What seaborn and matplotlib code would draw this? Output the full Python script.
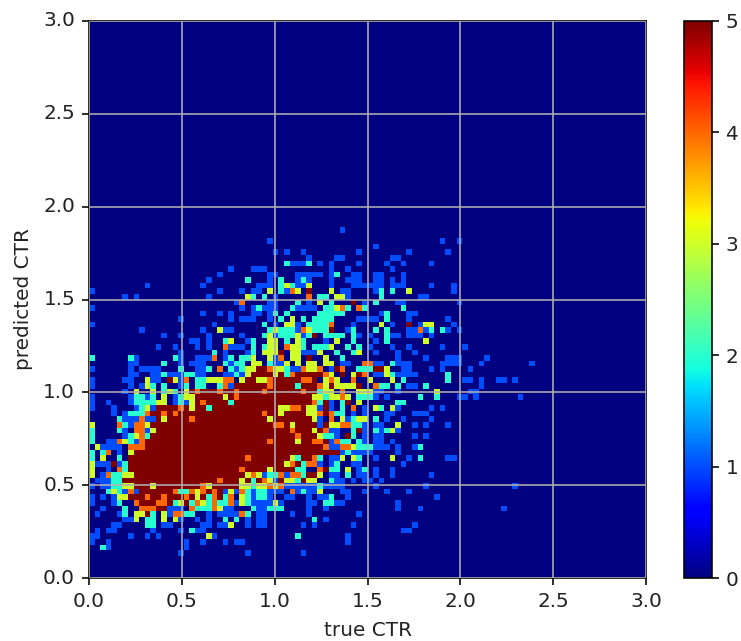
import numpy as np
import seaborn as sns
from matplotlib import pyplot as plt

# counts, 100x100 bins over 0..3
# row index from the bottom -> "col:count" or "first-last:count", later tokens win
rows_upper = {
    62: "45:1",
    60: "32:1 63:1 66:1",
    59: "51:1",
    58: "33:1 35:1 38:1 48:1 57:1 64:1",
    57: "39:1 44-45:1 54-55:1",
    56: "35:2 36-38:1 39:2 41:1 43:1 48:1 53:1 56:1 61:1",
    55: "25:1 29-31:1 43:1 46:1 54:1",
    54: "23:1 32-33:1 37-41:1 43:1 44:2 47-48:1 51-52:1 56:1",
    53: "21:1 28:2 32:1 34:2 37:1 38:2 39:1 43:1 46-48:1 51-52:1 54:1 56:1",
    52: "10:1 20:1 30-32:1 34:2 35:3 36:2 37-38:1 39:3 43:1 47-50:1 51-52:1 54-56:1 61:1 65:1",
    51: "0:1 23:1 27:1 29-30:1 32:3 34:2 35:1 36:4 37:3 39:5 43:3 45-46:1 51:1 52:2 54:2 57:3 65:1",
    50: "6:1 8:1 21:1 28:3 29:2 31:2 33:1 39:4 41-42:2 44-45:3 46:1 52:2 59-60:1",
    49: "26:1 27:4 32-33:1 37:2 39:1 41:3 43:2 47:5 49:1 51:2 55-56:1 66:1",
    48: "0:1 27:1 29:1 30:2 31-33:1 36:2 37-40:1 42-43:2 44:3 45:4 46:2 48:4 49:2 56:2",
    47: "20:1 23:1 25:1 29-30:1 32:1 33:2 35:2 41-45:2 52:1 53:2 57-58:1",
    46: "16:1 25:1 27-29:1 32:1 34:2 36:3 38:2 40-43:2 48-50:1 51:1 53:2 57:1 64:1",
    45: "0:1 22:1 31:2 33:1 35-36:3 37:1 39:2 40-42:2 43:4 47:1 52:3 54:1 57:5 59:1 60-61:3 65:1",
    44: "9:1 20:1 23:3 24-25:1 32:2 33:3 34-36:2 37:1 38:4 39:3 40-42:2 43:5 46:1 47:2 51:2 53:2 57-58:1 59:4 60:1 61:2 63:2 64:1 66:1",
    43: "13:1 16:1 21:1 27:1 31:2 32:3 33:1 34-36:2 37:3 38:1 39:2 40:5 42-43:2 44-45:2 47:2 48:1 50:1 53:2 54-55:1 57-59:1 61:1",
    42: "18-19:1 21:1 24:2 25:3 28:1 29:2 32-33:3 35:2 37:3 38:2 42:1 44:3 47:2 51:1 53:2 60:3",
    41: "12:1 15:1 19:1 21:1 24:4 25-27:1 29:2 31:2 32-33:3 35:4 36-37:3 38:2 40-42:2 43:3 46:2 48:2 50:1 54:1 57:1 63:1 67:1",
    40: "16:1 22:2 24:1 28:1 29:2 31-33:3 34:5 36-37:3 38-40:1 41:3 44:2 47:2 48:3 51:1 55:1 58:1",
    39: "0:2 7:2 8:1 15:2 16:1 19-21:1 22:4 24:1 25:2 27-28:2 29:3 32:3 33:1 34:4 36-37:3 39:5 42:3 45:2 55:1 60:1 64-66:1 71:1",
    38: "7-8:1 13:2 16:1 18-20:1 24:2 25:1 26-27:2 29-30:3 32:2 33-34:1 35:3 37:3 39-40:3 42-43:3 45-46:1 49-50:4 51-52:1 54:2 55:1 56-57:1 63-66:1 70:1 79:1",
    37: "0:1 7:1 9-12:1 16:2 19-20:1 21:2 23:4 25:2 26:1 27:2 28-29:3 30-31:5 32:4 33-34:3 35:2 36-37:1 38:4 39-40:3 41:4 43:1 44:5 45:4 48-50:2 51-52:5 53:3 56-57:1 61:1 63:1 68:1",
}
rows_core = {
    36: "7-8:1 11-12:1 13:2 14-16:1 17-18:2 19-20:1 24-25:1 26:2 27:1 28:3 29-32:5 33:3 34:5 35:2 36:4 37-41:5 42:4 43:3 45:5 47:3 48:5 49:4 51-52:1 53:3 54:2 55-58:1 64:2",
    35: "0:1 6-7:1 10:3 11-12:1 14:5 15:3 16:1 17:4 19-20:2 21-23:3 24-25:4 27:3 28-29:5 30-31:3 32:4 33-37:5 38-39:4 40:5 42:3 43:4 44:3 47:4 50:3 54:3 56:2 64:2 67-68:1 70:1 73-74:1 76:1",
    34: "0:1 7:1 9:1 10:3 11:2 13:2 16:1 17:2 19-20:2 23:2 24:4 25:1 26-36:5 32:4 37:2 38-40:5 41:4 42:3 43:5 44-47:3 48:5 51:4 52-53:2 55:2 57-58:1 60:2 70:1",
    33: "6:1 8:3 11:3 13:2 14:3 15:2 17:3 18-40:5 19:4 23:4 26:4 31:4 38:4 41:2 42-43:3 45:4 48-50:3 51-52:1 55:1 62:3 68-69:1",
    32: "0:1 7:1 8-9:2 10:1 11:2 13:3 15:1 16:2 17-18:3 19-39:5 24:3 26:4 40-41:3 42:2 43-44:3 45:4 46:3 48-50:2 51:1 53:1 59:2 62:2 66-67:1 69:1 77:1",
    31: "0:1 3:1 7:1 8-11:2 12-13:3 15:1 16:2 17:1 18:3 19-39:5 20:4 25:2 40:4 41:2 42:5 43:1 45:2 46:5 48:3 55-56:2",
    30: "0:1 4:1 8:1 9:2 10:3 11:1 12-42:5 16:4 18:3 21:2 34-35:3 36-37:4 39-40:3 41:1 43:1 45:2 47:4 49:1 51:3 52:2 54:3 55:1 61:1 63:1",
    29: "4:1 6:1 7-9:2 10:4 11-38:5 13:4 15:4 31:4 34:3 39-40:3 41:4 42:5 43:4 44-45:2 47:1 49:1 53-54:1 58-60:1",
    28: "5:2 6-8:1 9:4 10-11:1 12-39:5 13:3 18:4 32:3 40:3 41:1 43:4 45:3 46:1 47:2 48-49:3 51:2 53:1 56:1 61:1",
    27: "0:3 5:4 6:2 7:1 8-9:4 10:3 11-40:5 33-34:4 36:3 41:1 42:5 43-44:3 45-46:4 47-48:2 49:1 51-52:1 55:3 58:1 60:1 64:1",
    26: "0:2 5:2 6:1 8-9:4 10:1 11:3 12-40:5 36:4 40:3 41:5 42:4 43-44:1 47:2 48:5 49:1 51:2 52:1 53:2 54:3 55:1",
    25: "0:2 6:1 7:2 8:3 9:4 10:2 11-40:5 37:4 41:3 42-43:2 44:1 46:5 47:2 49:1 51-52:1 58:1 60:1",
    24: "0:2 3-4:1 5:4 6:3 7:2 8:1 9:4 10-39:5 32:4 37:3 40-41:4 42:5 43:1 44:4 45-46:2 48:2 49:1 51-52:1 54:1",
    23: "1:3 2-5:1 7-9:4 10-41:5 42:4 43-44:1 45-46:4 47:3 48-50:2 51-52:1 53:1 55:1 58:1 59:2",
    22: "0:2 2:2 3:4 5:1 7:3 8-44:5 45:1 46:2 47-50:1 55:1",
    21: "0:2 2:3 5:2 7-39:5 28:4 36:3 37:2 40:4 41:2 43-44:1 45:3 47:3 48:2 51:1 54:3 57:1 59:2 64-65:1",
    20: "0:3 1-3:1 4:5 5:1 6:2 7-38:5 35:3 36:4 38:2 39-40:4 41:1 43:1 44:2 47-48:1 56:1",
    19: "0:3 3:1 5:4 6:2 7-36:5 27:4 32:3 37-38:2 41:4 42:5 43-44:2 46:3 48:1 49:2 51:1 54:1",
    18: "0:3 2:1 3:4 4-5:2 6-7:3 8-27:5 28:3 29:4 30:3 31:1 32-33:2 34:4 35:1 36-37:4 38:2 39-40:5 41:3 43-44:1 46:2 48-49:1 51:1 54:1 61:1",
    17: "1-3:1 4-5:2 6-26:5 23:4 27:3 28:5 29:2 30:5 31:4 32:3 33:1 34:5 35-36:3 37:2 38:5 39-40:3 43:2 44-45:1 47:1 49-50:1 52:1",
    16: "0:1 2-3:1 4-5:2 6-7:3 8-26:5 11:3 20:4 21:3 27-28:3 29:2 30-31:3 32:4 33:3 34:4 35-40:1 41:2 42-45:1 51:1 60:1 76:1",
}
rows_lower = {
    15: "3:2 4:3 5:2 6:1 7:4 8:1 9-14:5 15:4 16-17:2 18:4 19:3 20:4 21:5 22:4 23:5 24:1 25:3 26:1 27:4 28:2 29:1 30-31:2 32-34:1 36:4 37:1 38:2 39-40:1 41:3 45-46:1 49:1 53:1 57:1",
    14: "0:1 2:1 4:1 5-6:3 7-24:5 10:4 13:4 17:4 19:3 21:2 22:4 24:2 25:4 27:3 28:2 29:1 30-31:2 32:1 35-36:1 39:1 41-42:1 43:2 46:1 62:1",
    13: "0:1 4:1 5:2 8:4 9-14:5 12-13:4 15:2 16:3 17:5 18:2 19:4 20:3 21:2 22:4 23-24:2 25:4 26:1 27:3 28:2 29-32:1 33:3 34:1 39-40:1 42-43:2 44-45:1 55:1",
    12: "2:1 6:2 9-11:4 12-13:5 14-16:1 18:4 19-21:2 22:4 23:3 24-25:1 29:2 30-31:1 32-34:2 39:1 42:1 55:1 59:1 74:1",
    11: "1:1 5:1 6:2 8-9:3 10:5 11:2 13:3 14:1 15-16:4 17-18:2 21:1 23-26:1 27:4 28:2 30-31:1 36:1 39:1 48:1",
    10: "6-7:1 8:3 10-11:2 13:3 15:3 16:1 19:1 21:1 24:2 26:2 28:1 30-31:1 40:2 42:1",
    9: "4-5:1 10-11:2 13-14:1 20-21:1 23-24:1 25:3 28:1 30-31:1 38:1 40:1 47:1 58:1",
    8: "1:1 3-4:1 11:1 16:1 18:2 19-20:1 56-57:1",
    7: "0-1:1 7:1 10:1 12:1 21:3 22:1 37:2 46:1",
    6: "0:1 3:1 17:1 20:1 24:1 26-27:1 46:1",
    5: "2:2 3:1 17:1",
    4: "16:1 28:1 38:1",
}
tick_values = [0.0, 0.5, 1.0, 1.5, 2.0, 2.5, 3.0]
tick_labels = ['0.0', '0.5', '1.0', '1.5', '2.0', '2.5', '3.0']
n_bins = 100
axis_max = 3.0

counts = np.zeros((n_bins, n_bins))
for rows in (rows_upper, rows_core, rows_lower):
    for r, text in rows.items():
        for tok in text.split():
            cols, v = tok.split(':')
            first, _, last = cols.partition('-')
            counts[r, int(first):int(last or first) + 1] = int(v)

# the reference looks like a default figure scaled up about 1.44 times
font_size = 14.4
line_w = 1.15
tick_len = 5

w, h = 741, 641
fig = plt.figure(figsize=(w / 100, h / 100), dpi=100)
ax = fig.add_axes([89 / w, 1 - 578 / h, 557 / w, 557 / h])
cax = fig.add_axes([684 / w, 1 - 578 / h, 27.5 / w, 557 / h])

sns.heatmap(counts, ax=ax, cbar_ax=cax, cmap='jet', vmin=0, vmax=5, square=False)
ax.set_ylim(0, n_bins)
ax.set_xlim(0, n_bins)

tick_pos = [t / axis_max * n_bins for t in tick_values]
ax.set_xticks(tick_pos)
ax.set_xticklabels(tick_labels, rotation=0, fontsize=font_size, color='#222222')
ax.set_yticks(tick_pos)
ax.set_yticklabels(tick_labels, rotation=0, fontsize=font_size, color='#222222')
ax.tick_params(length=tick_len, width=line_w, pad=5)
ax.set_xlabel('true CTR', fontsize=font_size, labelpad=7, color='#222222')
ax.set_ylabel('predicted CTR', fontsize=font_size, labelpad=7, color='#222222')
ax.set_axisbelow(False)
ax.grid(True, color='#b0b0b0', linewidth=line_w)
for s in ax.spines.values():
    s.set_visible(True)
    s.set_linewidth(line_w)

cbar = ax.collections[0].colorbar
cbar.set_ticks([0, 1, 2, 3, 4, 5])
cbar.ax.tick_params(labelsize=font_size, labelcolor='#222222', length=tick_len, width=line_w, pad=5)
cbar.outline.set_visible(True)
cbar.outline.set_linewidth(line_w)

fig.savefig('out.png', dpi=100)
